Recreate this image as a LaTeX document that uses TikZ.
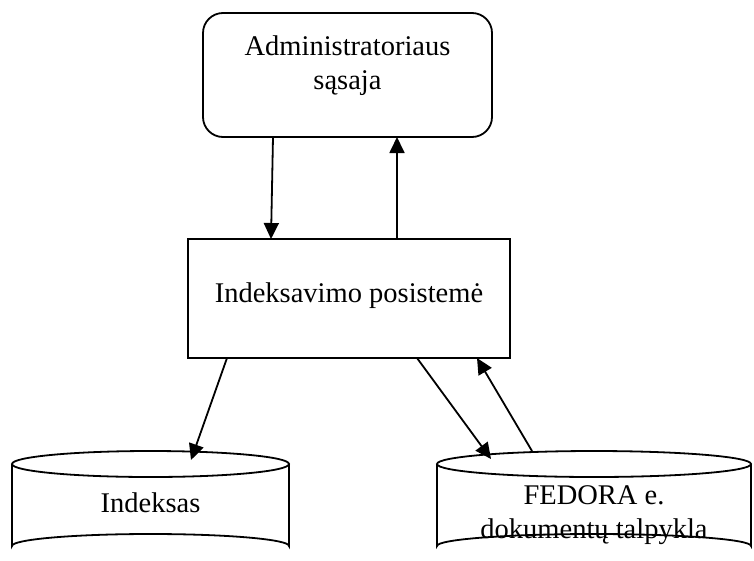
\documentclass[tikz,border=0pt]{standalone}
\usepackage{fontspec}
\setmainfont{Liberation Serif}
\usetikzlibrary{arrows.meta}
\begin{document}
\begin{tikzpicture}[x=1pt,y=-1pt,
  line width=1.8pt,
  lbl/.style={font=\fontsize{28.5}{34}\selectfont, align=center, inner sep=0pt},
  flow/.style={-{Triangle[length=16pt,width=15pt]}, line width=1.8pt}]
\useasboundingbox (0,0) rectangle (754,560);

% administrator interface
\draw[rounded corners=20pt] (203,13) rectangle (492,137);
\node[lbl] (admin) at (347.5,66) {Administratoriaus\\sąsaja};

% indexing subsystem
\draw (188,239) rectangle (510,358);
\node[lbl] (idx) at (349,296) {Indeksavimo posistemė};

% index storage cylinder
\draw (12,464) -- (12,546) arc[start angle=180,end angle=360,x radius=138.5,y radius=12] -- (289,464);
\draw (150.5,464) ellipse[x radius=138.5,y radius=13];
\node[lbl] (ind) at (150.5,503) {Indeksas};

% repository cylinder
\draw (437,464) -- (437,546) arc[start angle=180,end angle=360,x radius=157,y radius=12] -- (751,464);
\draw (594,464) ellipse[x radius=157,y radius=13];
\node[lbl] (fed) at (594,515) {FEDORA e.\\dokumentų talpykla};

% connector end points
\coordinate (a1) at (273,137);
\coordinate (a2) at (271,239);
\coordinate (b1) at (397,239);
\coordinate (b2) at (397,137);
\coordinate (c1) at (227,358);
\coordinate (c2) at (191,460);
\coordinate (d1) at (417,358);
\coordinate (d2) at (491,459);
\coordinate (e1) at (532,451);
\coordinate (e2) at (477,358);

\draw[flow] (a1) -- (a2);
\draw[flow] (b1) -- (b2);
\draw[flow] (c1) -- (c2);
\draw[flow] (d1) -- (d2);
\draw[flow] (e1) -- (e2);
\end{tikzpicture}
\end{document}
